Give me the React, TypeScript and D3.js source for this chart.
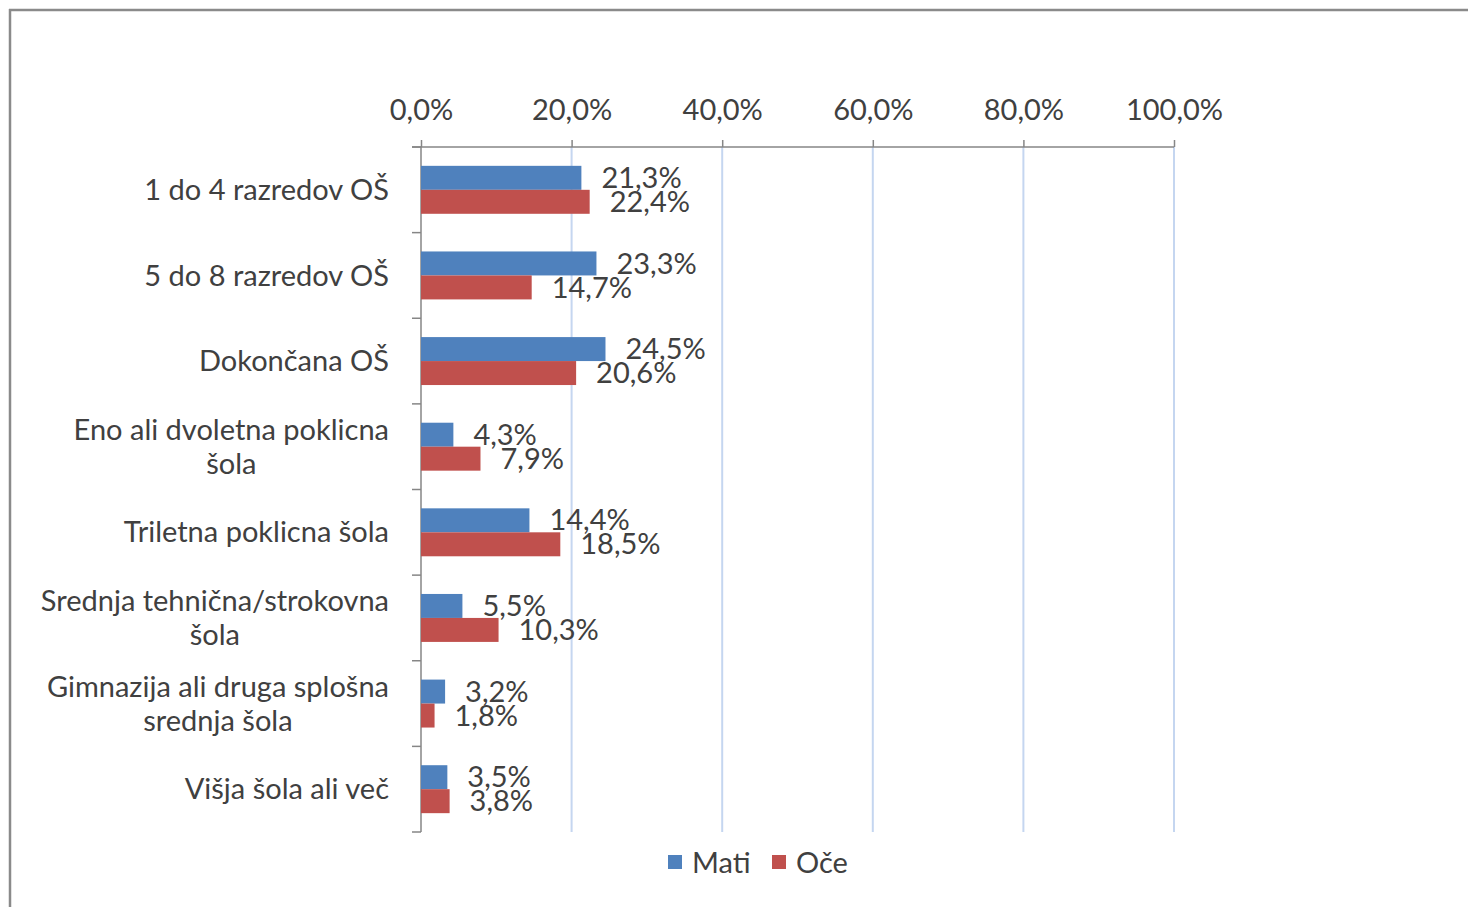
import React, { useEffect, useRef } from "react";
import * as d3 from "d3";

const categories = [
  "1 do 4 razredov OŠ",
  "5 do 8 razredov OŠ",
  "Dokončana OŠ",
  "Eno ali dvoletna poklicna|šola",
  "Triletna poklicna šola",
  "Srednja tehnična/strokovna|šola",
  "Gimnazija ali druga splošna|srednja šola",
  "Višja šola ali več",
];
const seriesNames = ["Mati", "Oče"];
const matiValues = [21.3, 23.3, 24.5, 4.3, 14.4, 5.5, 3.2, 3.5];
const oceValues = [22.4, 14.7, 20.6, 7.9, 18.5, 10.3, 1.8, 3.8];
const xTicks = [0, 20, 40, 60, 80, 100];
const colors = ["#4F81BD", "#C0504D"];

const fmt = (v: number) => v.toFixed(1).replace(".", ",") + "%";

export default function App() {
  const ref = useRef<SVGSVGElement | null>(null);

  useEffect(() => {
    const svg = d3.select(ref.current);
    svg.selectAll("*").remove();

    const font = "Lato, 'Open Sans', sans-serif";
    const fs = 29;
    const textColor = "#404040";
    const left = 421;
    const right = 1174;
    const top = 147;
    const bottom = 832;

    // frame of the embedded chart
    svg.append("line").attr("x1", 9).attr("x2", 1468).attr("y1", 10).attr("y2", 10).attr("stroke", "#8a8a8a").attr("stroke-width", 2.5);
    svg.append("line").attr("x1", 10).attr("x2", 10).attr("y1", 9).attr("y2", 907).attr("stroke", "#8a8a8a").attr("stroke-width", 2.5);

    const x = d3.scaleLinear().domain([0, 100]).range([left, right]);
    const y = d3.scaleBand<string>().domain(categories).range([top, bottom]).paddingInner(0.44).paddingOuter(0.22);
    const ySub = d3.scaleBand<number>().domain([0, 1]).range([0, y.bandwidth()]);

    // gridlines
    svg
      .append("g")
      .selectAll("line")
      .data(xTicks.slice(1))
      .join("line")
      .attr("x1", (d) => x(d))
      .attr("x2", (d) => x(d))
      .attr("y1", top)
      .attr("y2", bottom)
      .attr("stroke", "#C5D6F0")
      .attr("stroke-width", 2);

    // top axis
    const gx = svg.append("g").attr("transform", `translate(0,${top})`).call(d3.axisTop(x).tickValues(xTicks).tickSize(7).tickSizeOuter(0).tickFormat((d) => fmt(+d)));
    gx.select(".domain").remove();
    gx.selectAll(".tick line").attr("stroke", "#868686").attr("stroke-width", 1.5);
    gx.selectAll(".tick text").attr("font-family", font).attr("font-size", fs).attr("fill", textColor).attr("y", -27).attr("dy", 0);
    svg.append("line").attr("x1", 412).attr("x2", right).attr("y1", top).attr("y2", top).attr("stroke", "#868686").attr("stroke-width", 1.5);

    // left axis
    svg.append("line").attr("x1", left).attr("x2", left).attr("y1", top).attr("y2", bottom).attr("stroke", "#868686").attr("stroke-width", 1.5);
    const bounds = d3.range(categories.length + 1).map((i) => top + (i * (bottom - top)) / categories.length);
    svg
      .append("g")
      .selectAll("line")
      .data(bounds)
      .join("line")
      .attr("x1", 412)
      .attr("x2", left)
      .attr("y1", (d) => d)
      .attr("y2", (d) => d)
      .attr("stroke", "#868686")
      .attr("stroke-width", 1.5);

    // category labels
    const lab = svg.append("g").attr("font-family", font).attr("font-size", fs).attr("fill", textColor);
    categories.forEach((c) => {
      const lines = c.split("|");
      const cy = (y(c) ?? 0) + y.bandwidth() / 2;
      const lh = 34;
      if (lines.length === 1) {
        lab.append("text").attr("x", 389).attr("y", cy).attr("dy", "0.35em").attr("text-anchor", "end").text(lines[0]);
      } else {
        const t = lab.append("text").attr("text-anchor", "middle");
        const spans = lines.map((l, i) => t.append("tspan").attr("x", 0).attr("y", cy + (i - (lines.length - 1) / 2) * lh).attr("dy", "0.35em").text(l));
        const w = d3.max(spans, (s) => (s.node() as SVGTSpanElement).getComputedTextLength()) ?? 0;
        spans.forEach((s) => s.attr("x", 389 - w / 2));
      }
    });

    // bars
    const series = [matiValues, oceValues];
    series.forEach((vals, si) => {
      const g = svg.append("g");
      g.selectAll("rect")
        .data(vals)
        .join("rect")
        .attr("x", x(0))
        .attr("y", (_, i) => (y(categories[i]) ?? 0) + (ySub(si) ?? 0))
        .attr("width", (d) => x(d) - x(0))
        .attr("height", ySub.bandwidth())
        .attr("fill", colors[si]);
      g.selectAll("text")
        .data(vals)
        .join("text")
        .attr("x", (d) => x(d) + 20)
        .attr("y", (_, i) => (y(categories[i]) ?? 0) + (ySub(si) ?? 0) + ySub.bandwidth() / 2)
        .attr("dy", "0.35em")
        .attr("font-family", font)
        .attr("font-size", fs)
        .attr("fill", textColor)
        .text((d) => fmt(d));
    });

    // legend
    const lg = svg.append("g").attr("font-family", font).attr("font-size", fs).attr("fill", textColor);
    const legendX = [668, 772];
    seriesNames.forEach((n, i) => {
      lg.append("rect").attr("x", legendX[i]).attr("y", 855).attr("width", 14).attr("height", 14).attr("fill", colors[i]);
      lg.append("text").attr("x", legendX[i] + 24).attr("y", 863).attr("dy", "0.35em").text(n);
    });
  }, []);

  return <svg ref={ref} width={1468} height={907} style={{ position: "absolute", top: 0, left: 0, display: "block", background: "#fff" }} />;
}
